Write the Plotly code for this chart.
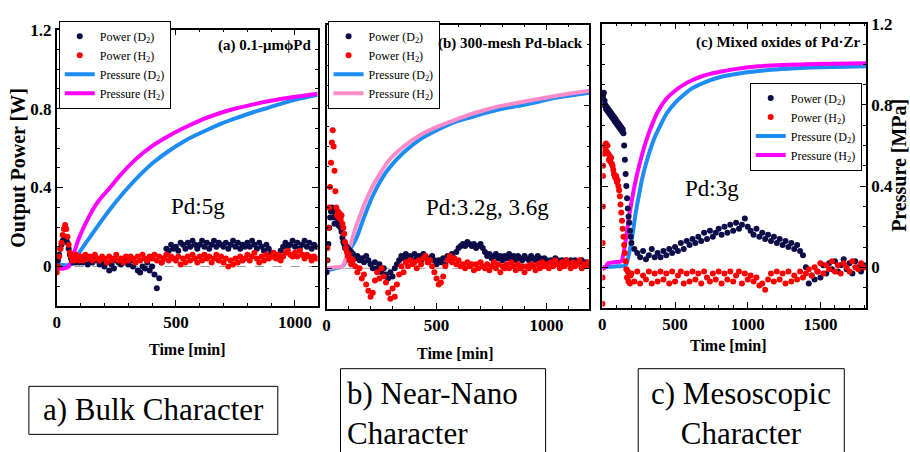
import plotly.graph_objects as go

# ---------------- data ----------------
# Panel (a) 0.1-um Pd, Pd:5g
time_a = list(range(0, 100, 5)) + list(range(100, 1100, 10))
power_d2_a = [0.00, 0.03, 0.06, 0.09, 0.11, 0.13, 0.14, 0.15, 0.14, 0.12, 0.09, 0.06, 0.04, 0.03, 0.02, 0.03, 0.02, 0.04, 0.03, 0.02,
              0.03, 0.02, 0.04, 0.01, 0.03, 0.02, 0.04, 0.03, 0.01, 0.02,
              0.00, 0.02, -0.02, 0.01, -0.01, 0.03, 0.02, 0.01, 0.03, 0.02,
              0.01, 0.03, 0.00, 0.02, -0.02, -0.03, 0.00, -0.01, 0.02, -0.02,
              0.00, -0.04, -0.11, -0.06, 0.02, 0.04, 0.09, 0.08, 0.11, 0.09,
              0.10, 0.08, 0.12, 0.11, 0.09, 0.12, 0.10, 0.13, 0.11, 0.09,
              0.11, 0.13, 0.10, 0.12, 0.09, 0.11, 0.13, 0.10, 0.12, 0.11,
              0.10, 0.12, 0.09, 0.11, 0.13, 0.10, 0.12, 0.09, 0.11, 0.10,
              0.12, 0.10, 0.13, 0.11, 0.09, 0.12, 0.10, 0.08, 0.11, 0.09,
              0.07, 0.05, 0.06, 0.04, 0.08, 0.10, 0.12, 0.10, 0.11, 0.13,
              0.10, 0.12, 0.09, 0.11, 0.13, 0.10, 0.12, 0.09, 0.11, 0.10]
power_h2_a = [-0.03, 0.00, 0.05, 0.09, 0.12, 0.16, 0.19, 0.21, 0.19, 0.15, 0.11, 0.07, 0.05, 0.03, 0.05, 0.03, 0.06, 0.04, 0.05, 0.03,
              0.05, 0.03, 0.06, 0.04, 0.05, 0.03, 0.06, 0.04, 0.03, 0.05,
              0.04, 0.02, 0.05, 0.03, 0.04, 0.06, 0.03, 0.04, 0.02, 0.05,
              0.03, 0.05, 0.04, 0.02, 0.05, 0.03, 0.06, 0.04, 0.03, 0.05,
              0.04, 0.06, 0.03, 0.05, 0.02, 0.04, 0.06, 0.03, 0.05, 0.04,
              0.03, 0.05, 0.01, 0.04, 0.02, 0.05, 0.03, 0.06, 0.04, 0.02,
              0.05, 0.03, 0.06, 0.04, 0.05, 0.02, 0.04, 0.06, 0.03, 0.05,
              0.02, 0.04, 0.00, 0.03, 0.01, 0.04, 0.02, 0.05, 0.03, 0.04,
              0.06, 0.03, 0.05, 0.07, 0.04, 0.02, 0.05, 0.03, 0.06, 0.04,
              0.05, 0.07, 0.04, 0.06, 0.03, 0.05, 0.07, 0.08, 0.06, 0.05,
              0.07, 0.05, 0.08, 0.06, 0.04, 0.06, 0.05, 0.03, 0.05, 0.04]
ptime_d2_a = [0, 60, 75, 100, 140, 190, 237, 292, 355, 404, 470, 542, 610, 683, 750, 821, 890, 958, 1020, 1095]
pressure_d2_a = [0.01, 0.01, 0.03, 0.08, 0.15, 0.235, 0.31, 0.39, 0.47, 0.525, 0.585, 0.64, 0.68, 0.72, 0.75, 0.78, 0.805, 0.83, 0.85, 0.87]
ptime_h2_a = [0, 30, 50, 70, 92, 130, 168, 224, 265, 333, 400, 475, 540, 612, 680, 750, 820, 892, 960, 1020, 1095]
pressure_h2_a = [-0.01, -0.01, 0.0, 0.06, 0.14, 0.24, 0.32, 0.40, 0.46, 0.545, 0.61, 0.665, 0.705, 0.745, 0.775, 0.80, 0.82, 0.838, 0.852, 0.863, 0.875]

# Panel (b) 300-mesh Pd-black, Pd:3.2g, 3.6g
time_b = list(range(0, 120, 4)) + list(range(120, 1200, 10))
power_d2_b = [-0.02, 0.04, 0.12, 0.20, 0.25, 0.28, 0.30, 0.28, 0.25, 0.22, 0.26, 0.29, 0.27, 0.24, 0.21,
              0.23, 0.20, 0.18, 0.15, 0.13, 0.12, 0.10, 0.11, 0.09, 0.10, 0.08, 0.09, 0.07, 0.08, 0.06,
              0.07, 0.05, 0.06, 0.04, 0.05, 0.03, 0.06, 0.04, 0.02, 0.00,
              0.03, 0.00, 0.02, -0.02, 0.00, -0.03, -0.05, -0.02, -0.04, 0.00,
              0.02, 0.04, 0.06, 0.05, 0.07, 0.05, 0.06, 0.04, 0.07, 0.05,
              0.06, 0.04, 0.07, 0.05, 0.03, 0.05, 0.06, 0.04, 0.02, 0.04,
              0.03, 0.05, 0.02, 0.06, 0.04, 0.07, 0.05, 0.08, 0.10, 0.11,
              0.12, 0.11, 0.13, 0.12, 0.11, 0.12, 0.10, 0.11, 0.12, 0.10,
              0.08, 0.06, 0.07, 0.05, 0.06, 0.07, 0.05, 0.06, 0.04, 0.06,
              0.05, 0.07, 0.05, 0.06, 0.04, 0.06, 0.05, 0.04, 0.06, 0.05,
              0.04, 0.06, 0.05, 0.04, 0.06, 0.05, 0.03, 0.05, 0.04, 0.03,
              0.04, 0.03, 0.05, 0.04, 0.03, 0.04, 0.02, 0.04, 0.03, 0.04,
              0.03, 0.04, 0.02, 0.03, 0.04, 0.02, 0.03, 0.02]
power_h2_b = [0.04, 0.10, 0.20, 0.30, 0.40, 0.52, 0.62, 0.68, 0.60, 0.48, 0.38, 0.30, 0.26, 0.28, 0.25,
              0.27, 0.24, 0.26, 0.22, 0.20, 0.17, 0.13, 0.10, 0.08, 0.06, 0.07, 0.04, 0.05, 0.02, 0.03,
              0.04, 0.01, -0.02, 0.00, -0.05, -0.03, -0.08, -0.11, -0.14, -0.12,
              -0.06, -0.02, -0.05, 0.00, -0.04, -0.07, -0.12, -0.15, -0.10, -0.14,
              -0.08, -0.03, 0.01, -0.02, 0.03, 0.01, 0.04, 0.02, 0.03, 0.00,
              0.04, 0.02, 0.05, 0.06, 0.03, 0.04, 0.01, -0.02, -0.05, -0.08,
              -0.07, -0.04, 0.01, 0.04, 0.06, 0.03, 0.05, 0.02, 0.04, 0.01,
              0.02, 0.00, 0.03, 0.01, 0.02, -0.01, 0.02, 0.00, 0.03, 0.01,
              0.00, 0.02, -0.01, 0.01, 0.03, 0.00, 0.02, -0.02, 0.01, 0.00,
              0.02, 0.00, 0.03, 0.01, -0.01, 0.02, 0.00, 0.01, -0.02, 0.01,
              0.00, 0.02, 0.01, -0.01, 0.02, 0.00, 0.03, 0.01, 0.02, 0.00,
              0.03, 0.01, 0.04, 0.02, 0.00, 0.03, 0.01, 0.04, 0.02, 0.00,
              0.03, 0.01, 0.02, 0.04, 0.00, 0.02, 0.01, 0.03]
ptime_d2_b = [0, 40, 72, 85, 100, 132, 170, 207, 245, 282, 350, 432, 510, 582, 643, 720, 793, 870, 943, 1020, 1100, 1195]
pressure_d2_b = [-0.01, 0.0, 0.01, 0.03, 0.08, 0.14, 0.25, 0.35, 0.43, 0.49, 0.57, 0.64, 0.685, 0.72, 0.74, 0.765, 0.785, 0.80, 0.815, 0.835, 0.85, 0.865]
ptime_h2_b = [0, 40, 70, 85, 102, 132, 170, 207, 245, 282, 350, 432, 510, 582, 643, 720, 793, 870, 943, 1020, 1100, 1195]
pressure_h2_b = [0.0, 0.005, 0.01, 0.04, 0.09, 0.20, 0.31, 0.40, 0.47, 0.53, 0.60, 0.66, 0.70, 0.73, 0.755, 0.78, 0.80, 0.815, 0.83, 0.845, 0.86, 0.875]

# Panel (c) Mixed oxides of Pd-Zr, Pd:3g
time_c = [0, 1, 2, 3, 4] + list(range(5, 200, 5)) + list(range(200, 1801, 20))
power_d2_c = [0.80, 0.84, 0.86, 0.85, 0.83,
              0.85, 0.86, 0.82, 0.80, 0.78, 0.79, 0.77, 0.78, 0.76, 0.77,
              0.75, 0.76, 0.74, 0.75, 0.73, 0.74, 0.72, 0.73, 0.71, 0.72,
              0.70, 0.71, 0.69, 0.70, 0.68, 0.69, 0.67, 0.68, 0.66, 0.60,
              0.53, 0.46, 0.40, 0.34, 0.29, 0.25, 0.22, 0.18, 0.15,
              0.12, 0.09, 0.07, 0.05, 0.08, 0.04, 0.06, 0.09, 0.05, 0.07,
              0.05, 0.08, 0.06, 0.09, 0.07, 0.10, 0.08, 0.12, 0.09, 0.13,
              0.11, 0.14, 0.12, 0.15, 0.13, 0.17, 0.14, 0.18, 0.15, 0.17,
              0.19, 0.16, 0.20, 0.17, 0.21, 0.18, 0.22, 0.19, 0.21, 0.24,
              0.20, 0.18, 0.16, 0.19, 0.15, 0.17, 0.14, 0.16, 0.13, 0.15,
              0.12, 0.14, 0.11, 0.13, 0.10, 0.12, 0.09, 0.11, 0.08, 0.06,
              0.00, -0.08, -0.04, -0.06, -0.02, -0.05, 0.01, -0.03, 0.02, -0.01,
              0.03, -0.02, 0.01, 0.04, -0.01, 0.02, -0.03, 0.03, 0.00, -0.02,
              0.01]
power_h2_c = [-0.18, -0.05, 0.12, 0.30, 0.45,
              0.50, 0.56, 0.60, 0.58, 0.61, 0.57, 0.60, 0.56, 0.53, 0.55,
              0.52, 0.54, 0.51, 0.50, 0.48, 0.46, 0.45, 0.44, 0.45, 0.42,
              0.43, 0.40, 0.38, 0.35, 0.31, 0.27, 0.23, 0.19, 0.15, 0.11,
              0.07, 0.03, -0.01, -0.05, -0.02, -0.07, -0.03, -0.08, -0.04,
              -0.03, -0.07, -0.02, -0.08, -0.04, -0.06, -0.02, -0.08, -0.03, -0.07,
              -0.02, -0.06, -0.03, -0.08, -0.02, -0.07, -0.04, -0.02, -0.08, -0.03,
              -0.07, -0.02, -0.06, -0.03, -0.08, -0.02, -0.05, -0.07, -0.03, -0.06,
              -0.02, -0.08, -0.03, -0.06, -0.02, -0.07, -0.04, -0.02, -0.08, -0.03,
              -0.06, -0.04, -0.07, -0.05, -0.09, -0.08, -0.11, -0.06, -0.03, -0.07,
              -0.02, -0.06, -0.03, -0.08, -0.02, -0.07, -0.04, -0.06, -0.02, -0.05,
              -0.03, -0.01, -0.04, 0.00, -0.02, 0.02, -0.03, 0.01, -0.01, 0.03,
              -0.02, 0.01, -0.03, 0.02, 0.00, -0.02, 0.03, 0.00, -0.01, 0.02,
              0.00]
ptime_d2_c = [0, 100, 160, 175, 190, 207, 230, 253, 275, 300, 325, 360, 400, 440, 500, 560, 614, 700, 800, 900, 1074, 1250, 1400, 1600, 1815]
pressure_d2_c = [0.0, 0.005, 0.01, 0.04, 0.09, 0.16, 0.27, 0.36, 0.44, 0.51, 0.57, 0.64, 0.70, 0.755, 0.81, 0.85, 0.88, 0.91, 0.935, 0.95, 0.967, 0.977, 0.983, 0.987, 0.99]
ptime_h2_c = [0, 20, 40, 80, 130, 140, 160, 184, 205, 230, 260, 300, 340, 384, 440, 500, 560, 614, 700, 800, 900, 1074, 1250, 1400, 1600, 1815]
pressure_h2_c = [-0.01, 0.0, 0.02, 0.025, 0.03, 0.05, 0.13, 0.25, 0.34, 0.43, 0.52, 0.62, 0.70, 0.77, 0.83, 0.87, 0.90, 0.92, 0.945, 0.962, 0.975, 0.99, 0.997, 1.0, 1.003, 1.005]

legend_names = ["Power (D<sub>2</sub>)", "Power (H<sub>2</sub>)", "Pressure (D<sub>2</sub>)", "Pressure (H<sub>2</sub>)"]
x_tickvals = [0, 500, 1000, 1500]
y_tickvals = [0, 0.4, 0.8, 1.2]
y_ticktext = ["0", "0.4", "0.8", "1.2"]

# ---------------- figure ----------------
NAVY = "#0c0c48"
RED = "#ff0000"
BLUE = "#1e8cf5"
MAGENTA = "#ff00ff"
PINK = "#ff8cc8"
SERIF = "Liberation Serif"

W, H = 910, 452
def px(x):
    return x / W
def py(y):
    return (H - y) / H

fig = go.Figure()

panels = [
    ("x", "y", "legend", time_a, power_d2_a, power_h2_a, ptime_d2_a, pressure_d2_a, ptime_h2_a, pressure_h2_a, MAGENTA),
    ("x2", "y2", "legend2", time_b, power_d2_b, power_h2_b, ptime_d2_b, pressure_d2_b, ptime_h2_b, pressure_h2_b, PINK),
    ("x3", "y3", "legend3", time_c, power_d2_c, power_h2_c, ptime_d2_c, pressure_d2_c, ptime_h2_c, pressure_h2_c, MAGENTA),
]
for xa, ya, lg, t, pd2, ph2, td2, prd2, th2, prh2, hcol in panels:
    fig.add_trace(go.Scatter(x=td2, y=prd2, mode="lines", line=dict(color=BLUE, width=4, shape="spline"),
                             name=legend_names[2], legend=lg, legendrank=3, xaxis=xa, yaxis=ya))
    fig.add_trace(go.Scatter(x=th2, y=prh2, mode="lines", line=dict(color=hcol, width=4, shape="spline"),
                             name=legend_names[3], legend=lg, legendrank=4, xaxis=xa, yaxis=ya))
    fig.add_trace(go.Scatter(x=t, y=pd2, mode="markers", marker=dict(color=NAVY, size=6),
                             name=legend_names[0], legend=lg, legendrank=1, xaxis=xa, yaxis=ya))
    fig.add_trace(go.Scatter(x=t, y=ph2, mode="markers", marker=dict(color=RED, size=6),
                             name=legend_names[1], legend=lg, legendrank=2, xaxis=xa, yaxis=ya))

tickfont = dict(family=SERIF, size=17, color="black")
def xax(dom, rng, anchor):
    return dict(domain=dom, range=rng, anchor=anchor, showline=True, linecolor="black", linewidth=1.5,
                mirror="allticks", ticks="inside", ticklen=6, tickwidth=1.2, tickcolor="black",
                tickmode="array", tickvals=x_tickvals, ticktext=["<b>%d</b>" % v for v in x_tickvals],
                showgrid=False, zeroline=False, tickfont=tickfont,
                minor=dict(ticks="inside", ticklen=3, tickcolor="black", tickmode="linear", tick0=0, dtick=100, showgrid=False))
def yax(dom, anchor, labels, side="left"):
    return dict(domain=dom, range=[-0.2, 1.2], anchor=anchor, side=side, showline=True, linecolor="black",
                linewidth=1.5, mirror="allticks", ticks="inside", ticklen=6, tickwidth=1.2, tickcolor="black",
                tickmode="array", tickvals=y_tickvals, ticktext=["<b>%s</b>" % s for s in y_ticktext],
                showgrid=False, zeroline=False, showticklabels=labels, tickfont=tickfont,
                minor=dict(ticks="inside", ticklen=3, tickcolor="black", tickmode="linear", tick0=0, dtick=0.1, showgrid=False))

legend_common = dict(bgcolor="white", bordercolor="black", borderwidth=1, font=dict(family=SERIF, size=12, color="black"),
                     itemwidth=30, tracegroupgap=0, xanchor="left", yanchor="top")

fig.update_layout(
    width=W, height=H, margin=dict(l=0, r=0, t=0, b=0),
    paper_bgcolor="white", plot_bgcolor="white",
    font=dict(family=SERIF, color="black"),
    xaxis=xax([px(53), px(315)], [0, 1095], "y"),
    yaxis=yax([py(303), py(21)], "x", True),
    xaxis2=xax([px(324), px(588)], [0, 1195], "y2"),
    yaxis2=yax([py(306), py(16)], "x2", False),
    xaxis3=xax([px(601), px(866)], [0, 1815], "y3"),
    yaxis3=yax([py(305), py(15)], "x3", True, side="right"),
    legend=dict(x=px(55), y=py(12), **legend_common),
    legend2=dict(x=px(325), y=py(12), **legend_common),
    legend3=dict(x=px(749), y=py(75), **legend_common),
)

shapes = []
# dashed zero reference lines
for xr, yr in [("x domain", "y"), ("x2 domain", "y2")]:
    shapes.append(dict(type="line", xref=xr, yref=yr, x0=0, x1=1, y0=0, y1=0,
                       line=dict(color="#999999", width=1, dash="dash"), layer="below"))
# caption boxes
shapes.append(dict(type="rect", xref="paper", yref="paper", x0=px(25), x1=px(275), y0=py(434), y1=py(385),
                   line=dict(color="black", width=1), fillcolor="white"))
shapes.append(dict(type="rect", xref="paper", yref="paper", x0=px(338), x1=px(544), y0=-0.1, y1=py(367),
                   line=dict(color="black", width=1), fillcolor="white"))
shapes.append(dict(type="rect", xref="paper", yref="paper", x0=px(637), x1=px(844), y0=-0.1, y1=py(367),
                   line=dict(color="black", width=1), fillcolor="white"))
fig.update_layout(shapes=shapes)

ann = []
def A(text, x, y, size, bold=False, xanchor="center", yanchor="middle", angle=0, align="center"):
    ann.append(dict(text="<b>%s</b>" % text if bold else text, x=px(x), y=py(y), xref="paper", yref="paper",
                    showarrow=False, xanchor=xanchor, yanchor=yanchor, textangle=angle, align=align,
                    font=dict(family=SERIF, size=size, color="black")))

A("(a) 0.1-μmϕPd", 311, 37, 15, bold=True, xanchor="right")
A("(b) 300-mesh Pd-black", 584, 35, 15, bold=True, xanchor="right")
A("(c) Mixed oxides of Pd·Zr", 862, 34, 15, bold=True, xanchor="right")
A("Pd:5g", 195, 202, 23)
A("Pd:3.2g, 3.6g", 486, 203, 23)
A("Pd:3g", 711, 183, 23)
A("Output Power [W]", 15, 162, 20, bold=True, angle=-90)
A("Pressure [MPa]", 899, 160, 20, bold=True, angle=-90)
A("Time [min]", 184, 347, 16, bold=True)
A("Time [min]", 453, 352, 16, bold=True)
A("Time [min]", 728, 343, 16, bold=True)
A("a) Bulk Character", 150, 409, 31)
A("b) Near-Nano<br>Character", 343, 372, 31, xanchor="left", yanchor="top", align="left")
A("c) Mesoscopic<br>Character", 740, 372, 31, yanchor="top")
fig.update_layout(annotations=ann)

fig.write_html("out.html")
